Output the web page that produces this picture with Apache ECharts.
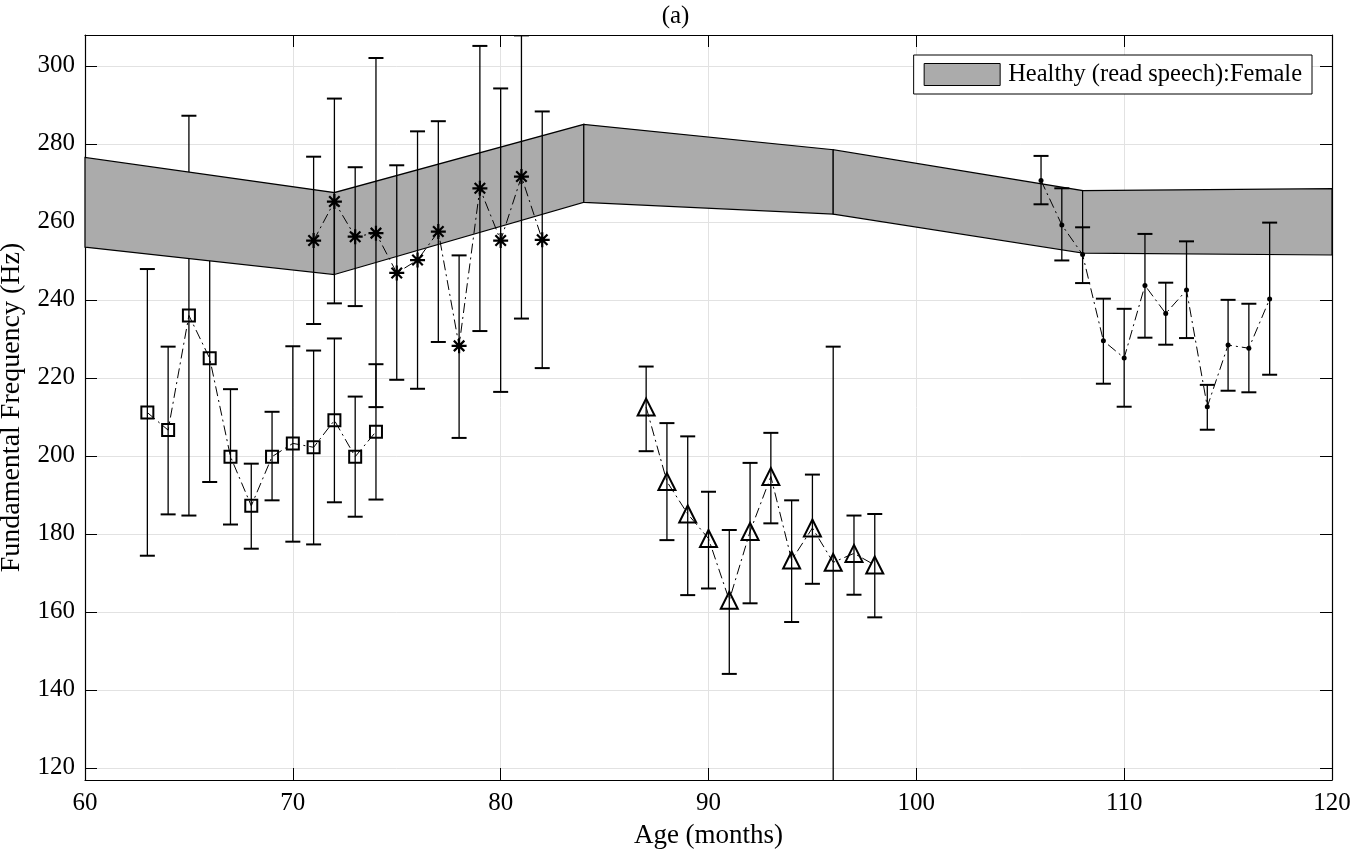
<!DOCTYPE html>
<html>
<head>
<meta charset="utf-8">
<script src="https://cdn.jsdelivr.net/npm/echarts@6/dist/echarts.min.js"></script>
<style>
  html, body { margin: 0; padding: 0; background: #fff; }
  #main { width: 1351px; height: 853px; }
</style>
</head>
<body>
<div id="main"></div>
<script>
// data
var bandAge = [60, 72, 84, 96, 108, 120];
var bandLo = [253.5, 246.5, 265, 262, 252, 251.5];
var bandHi = [276.5, 267.5, 285, 278.5, 268, 268.5];

var sqAge = [63, 64, 65, 66, 67, 68, 69, 70, 71, 72, 73, 74];
var sqF = [211.1, 206.6, 236, 225, 199.8, 187.2, 199.8, 203.2, 202.2, 209.1, 199.8, 206.2];
var sqHi = [247.9, 228, 287.2, 257, 217.1, 198, 211.3, 228.1, 227, 230.1, 215.2, 223.5];
var sqLo = [174.4, 185, 184.7, 193.3, 182.4, 176.2, 188.6, 178, 177.3, 188.1, 184.4, 188.8];

var stAge = [71, 72, 73, 74, 75, 76, 77, 78, 79, 80, 81, 82];
var stF = [255.2, 265.2, 256.2, 257.1, 246.9, 250.2, 257.5, 228.2, 268.6, 255.2, 271.6, 255.4];
var stHi = [276.7, 291.6, 274, 302, 274.5, 283.2, 285.8, 251.4, 305.1, 294.2, 307.8, 288.3];
var stLo = [233.8, 239.1, 238.4, 212.5, 219.5, 217.2, 229.2, 204.6, 232, 216.4, 235.2, 222.5];

var trAge = [87, 88, 89, 90, 91, 92, 93, 94, 95, 96, 97, 98];
var trF = [212.5, 193.4, 185.1, 178.8, 163, 180.6, 194.7, 173.3, 181.5, 172.7, 175, 172];
var trHi = [222.9, 208.4, 205, 190.8, 181, 198.2, 205.9, 188.6, 195.2, 228, 184.7, 185.1];
var trLo = [201.2, 178.4, 164.3, 166, 144.1, 162.2, 182.7, 157.4, 167.2, 116, 164.4, 158.6];

var dtAge = [106, 107, 108, 109, 110, 111, 112, 113, 114, 115, 116, 117];
var dtF = [270.6, 259.2, 251.6, 229.5, 225.1, 243.7, 236.5, 242.5, 212.6, 228.4, 227.6, 240.2];
var dtHi = [276.9, 268.6, 258.6, 240.3, 237.7, 256.9, 244.4, 255, 218.2, 240, 239, 259.8];
var dtLo = [264.5, 250.1, 244.3, 218.5, 212.6, 230.3, 228.5, 230.2, 206.7, 216.7, 216.3, 220.8];

var yTicks = [120, 140, 160, 180, 200, 220, 240, 260, 280, 300];
var yMin = 116.9, yMax = 307.9;

var font = '"Liberation Serif", "DejaVu Serif", serif';
var dashDot = [10, 4, 2, 4];

function zip(a, b, c) {
    return a.map(function (v, i) { return c ? [v, b[i], c[i]] : [v, b[i]]; });
}

// vertical error bars with caps, clamped to the axis range
function errRender(params, api) {
    var x = api.value(0);
    var lo = Math.max(api.value(1), yMin);
    var hi = Math.min(api.value(2), yMax);
    var p1 = api.coord([x, hi]);
    var p2 = api.coord([x, lo]);
    var w = 7.5;
    var kids = [
        {type: 'line', shape: {x1: p1[0], y1: p1[1], x2: p2[0], y2: p2[1]}, style: {stroke: '#000', lineWidth: 1.3}}
    ];
    if (api.value(2) <= yMax) kids.push({type: 'line', shape: {x1: p1[0] - w, y1: p1[1], x2: p1[0] + w, y2: p1[1]}, style: {stroke: '#000', lineWidth: 2}});
    if (api.value(1) >= yMin) kids.push({type: 'line', shape: {x1: p2[0] - w, y1: p2[1], x2: p2[0] + w, y2: p2[1]}, style: {stroke: '#000', lineWidth: 2}});
    return {type: 'group', children: kids};
}

function bandRender(params, api) {
    var a = api.coord([api.value(0), api.value(2)]);
    var b = api.coord([api.value(1), api.value(4)]);
    var c = api.coord([api.value(1), api.value(5)]);
    var d = api.coord([api.value(0), api.value(3)]);
    return {
        type: 'polygon',
        shape: {points: [a, b, c, d]},
        style: {fill: '#ababab', stroke: '#000', lineWidth: 1.2}
    };
}

var bandData = [];
for (var i = 0; i < bandAge.length - 1; i++) {
    bandData.push([bandAge[i], bandAge[i + 1], bandLo[i], bandHi[i], bandLo[i + 1], bandHi[i + 1]]);
}

function errSeries(age, lo, hi) {
    return {
        type: 'custom', renderItem: errRender, clip: true, silent: true,
        encode: {x: 0, y: [1, 2]},
        data: zip(age, lo, hi)
    };
}
function lineSeries(age, f, sym, size, fill, bw) {
    return {
        type: 'line', data: zip(age, f), symbol: sym, symbolSize: size,
        showAllSymbol: true, silent: true,
        lineStyle: {color: '#000', width: 1, type: dashDot},
        itemStyle: {color: fill, borderColor: '#000', borderWidth: bw}
    };
}

var starPath = 'path://M0,-10L0,10M-10,0L10,0M-7,-7L7,7M-7,7L7,-7';

var myChart = echarts.init(document.getElementById('main'));
var option = {
    animation: false,
    backgroundColor: '#fff',
    title: {
        text: '(a)', left: 'center', top: -1,
        textStyle: {fontFamily: font, fontSize: 25, fontWeight: 'normal', color: '#000'}
    },
    legend: {
        right: 39, top: 55,
        orient: 'vertical',
        data: [{name: 'Healthy (read speech):Female', icon: 'rect'}],
        itemWidth: 76, itemHeight: 22, itemGap: 6,
        padding: [7, 10, 7, 10],
        backgroundColor: '#fff', borderColor: '#000', borderWidth: 1, borderRadius: 0,
        itemStyle: {color: '#ababab', borderColor: '#000', borderWidth: 1},
        textStyle: {fontFamily: font, fontSize: 24.5, color: '#000', padding: [0, 0, 0, 3]},
        selectedMode: false
    },
    grid: {left: 85, right: 19, top: 35, bottom: 73, outerBoundsMode: 'none'},
    xAxis: [{
        type: 'value', min: 60, max: 120, interval: 10,
        name: 'Age (months)', nameLocation: 'middle', nameGap: 42,
        nameTextStyle: {fontFamily: font, fontSize: 27, color: '#000'},
        axisLine: {show: true, onZero: false, lineStyle: {color: '#000', width: 1.2}},
        axisTick: {show: true, inside: true, length: 12, lineStyle: {color: '#000'}},
        axisLabel: {fontFamily: font, fontSize: 25, color: '#000', margin: 11},
        splitLine: {show: true, lineStyle: {color: '#e2e2e2', width: 1}}
    }, {
        type: 'value', min: 60, max: 120, interval: 10, position: 'top',
        axisLine: {show: true, onZero: false, lineStyle: {color: '#000', width: 1.2}},
        axisTick: {show: true, inside: true, length: 12, lineStyle: {color: '#000'}},
        axisLabel: {show: false}, splitLine: {show: false}
    }],
    yAxis: [{
        type: 'value', min: yMin, max: yMax,
        name: 'Fundamental Frequency (Hz)', nameLocation: 'middle', nameGap: 59,
        nameTextStyle: {fontFamily: font, fontSize: 28, color: '#000'},
        axisLine: {show: true, onZero: false, lineStyle: {color: '#000', width: 1.2}},
        axisTick: {show: true, inside: true, length: 12, customValues: yTicks, lineStyle: {color: '#000'}},
        axisLabel: {fontFamily: font, fontSize: 25, color: '#000', margin: 10, customValues: yTicks},
        splitLine: {show: true, lineStyle: {color: '#e2e2e2', width: 1}}
    }, {
        type: 'value', min: yMin, max: yMax, position: 'right',
        axisLine: {show: true, onZero: false, lineStyle: {color: '#000', width: 1.2}},
        axisTick: {show: true, inside: true, length: 12, customValues: yTicks, lineStyle: {color: '#000'}},
        axisLabel: {show: false}, splitLine: {show: false}
    }],
    series: [
        errSeries(sqAge, sqLo, sqHi),
        lineSeries(sqAge, sqF, 'rect', 12, 'rgba(0,0,0,0)', 2),
        {
            name: 'Healthy (read speech):Female',
            type: 'custom', renderItem: bandRender, silent: true,
            itemStyle: {color: '#ababab'},
            encode: {x: [0, 1], y: [2, 3, 4, 5]},
            data: bandData
        },
        errSeries(stAge, stLo, stHi),
        lineSeries(stAge, stF, starPath, 15, 'rgba(0,0,0,0)', 2.2),
        errSeries(trAge, trLo, trHi),
        lineSeries(trAge, trF, 'triangle', 17, 'rgba(0,0,0,0)', 2),
        errSeries(dtAge, dtLo, dtHi),
        lineSeries(dtAge, dtF, 'circle', 5, '#000', 0)
    ]
};
myChart.setOption(option);
</script>
</body>
</html>
